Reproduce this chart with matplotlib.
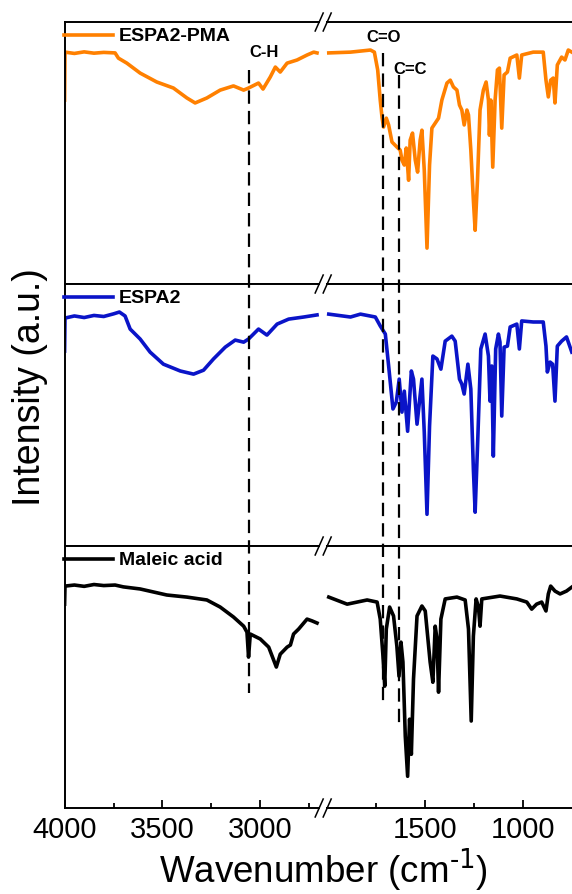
import numpy as np
import matplotlib
matplotlib.use("Agg")
import matplotlib.pyplot as plt
from matplotlib.lines import Line2D
from matplotlib.patches import Polygon

plt.rcParams['font.family'] = ['Liberation Sans', 'DejaVu Sans']
plt.rcParams['mathtext.default'] = 'regular'

# ESPA2-PMA (orange)
wn_pma = [4000, 3998, 3950, 3900, 3850, 3800, 3742, 3725, 3682, 3614,
          3529, 3444, 3375, 3333, 3273, 3205, 3137, 3085, 3060, 3009,
          2986, 2949, 2923, 2898, 2863, 2812, 2761, 2727, 2710,
          1993, 1882, 1780, 1760, 1743, 1730, 1721, 1713, 1699, 1687,
          1670, 1645, 1628, 1619, 1607, 1597, 1585, 1577, 1565, 1551,
          1539, 1526, 1517, 1505, 1491, 1478, 1466, 1449, 1432, 1415,
          1389, 1372, 1356, 1338, 1325, 1313, 1301, 1287, 1279, 1267,
          1254, 1245, 1233, 1220, 1203, 1189, 1177, 1172, 1165, 1155,
          1143, 1131, 1121, 1109, 1097, 1080, 1066, 1032, 1019, 1007,
          948, 897, 883, 871, 859, 846, 837, 825, 803, 786, 769, 751]
t_pma = [70.2, 88.5, 88.0, 88.6, 88.1, 88.4, 88.2, 86.2, 84.3, 80.5,
         77.1, 74.8, 71.0, 69.1, 71.0, 74.0, 75.6, 74.0, 74.8, 76.7,
         74.4, 79.0, 82.8, 80.9, 84.3, 85.5, 87.4, 88.5, 88.2,
         88.2, 88.5, 89.3, 88.5, 81.7, 70.2, 63.7, 59.9, 63.3, 60.7,
         54.2, 52.3, 51.1, 47.3, 45.4, 51.9, 39.6, 54.9, 57.6, 47.3,
         42.7, 54.9, 58.7, 43.5, 13.7, 45.4, 59.5, 61.4, 63.3, 70.2,
         76.7, 77.8, 75.2, 74.0, 68.3, 66.4, 60.7, 66.4, 64.5, 51.1,
         32.0, 20.5, 39.6, 66.4, 74.0, 77.1, 70.2, 56.8, 70.2, 44.6,
         70.2, 81.7, 82.4, 59.5, 79.8, 80.9, 86.2, 87.4, 78.6, 87.4,
         88.5, 88.5, 77.8, 71.4, 77.8, 78.6, 69.1, 83.6, 86.6, 85.5, 89.3, 88.5]

# ESPA2 (blue)
wn_espa = [4000, 3998, 3950, 3900, 3850, 3800, 3750, 3720, 3691, 3665,
           3614, 3563, 3495, 3409, 3341, 3290, 3239, 3179, 3128, 3085,
           3060, 3009, 2966, 2914, 2855, 2778, 2710,
           1993, 1882, 1831, 1755, 1730, 1704, 1687, 1665, 1648, 1633,
           1619, 1607, 1590, 1571, 1560, 1542, 1517, 1505, 1491, 1478,
           1461, 1440, 1420, 1398, 1364, 1347, 1325, 1313, 1301, 1282,
           1267, 1254, 1245, 1231, 1216, 1194, 1177, 1169, 1160, 1152,
           1140, 1126, 1118, 1109, 1097, 1080, 1066, 1032, 1019, 1007,
           948, 897, 883, 876, 862, 849, 837, 825, 803, 778, 751]
t_espa = [74.4, 87.0, 87.8, 87.2, 88.0, 87.6, 88.6, 89.3, 87.8, 82.8,
          79.0, 74.0, 69.4, 66.8, 65.6, 67.1, 71.4, 75.9, 78.6, 77.8,
          79.0, 82.8, 80.5, 84.7, 86.6, 87.4, 88.2,
          88.5, 87.4, 88.5, 87.4, 84.0, 80.9, 68.7, 52.3, 54.9, 63.7,
          51.1, 59.1, 43.8, 66.8, 63.7, 46.5, 63.7, 43.5, 12.1, 45.8,
          72.5, 71.4, 67.5, 78.2, 80.1, 78.2, 63.7, 61.8, 58.0, 69.4,
          59.9, 29.3, 12.9, 41.9, 75.2, 80.9, 72.5, 55.3, 68.7, 34.3,
          75.2, 80.9, 77.8, 49.6, 75.9, 76.3, 83.6, 84.7, 75.2, 85.9,
          85.5, 85.5, 76.3, 66.4, 70.2, 69.4, 55.3, 76.3, 78.2, 79.8, 74.0]

# Maleic acid (black)
wn_ma = [4000, 3998, 3950, 3900, 3850, 3800, 3742, 3700, 3614, 3478,
         3375, 3273, 3205, 3137, 3085, 3068, 3060, 3051, 3000, 2957,
         2918, 2898, 2863, 2846, 2830, 2804, 2761, 2735, 2710,
         1993, 1899, 1797, 1746, 1730, 1716, 1707, 1699, 1682, 1662,
         1645, 1634, 1624, 1614, 1602, 1590, 1580, 1571, 1560, 1542,
         1517, 1500, 1475, 1461, 1449, 1440, 1432, 1420, 1398, 1338,
         1296, 1279, 1265, 1254, 1240, 1228, 1220, 1211, 1118, 1032,
         981, 956, 931, 905, 883, 871, 859, 837, 811, 778, 751]
t_ma = [77.8, 84.7, 85.1, 84.6, 85.3, 84.9, 85.1, 84.4, 83.6, 81.3,
        80.5, 79.4, 76.7, 72.9, 69.4, 67.1, 57.6, 66.4, 64.5, 61.4,
        53.8, 58.7, 61.4, 62.2, 66.4, 68.3, 72.1, 71.4, 70.6,
        80.5, 77.8, 79.4, 78.6, 72.1, 58.0, 46.5, 68.3, 76.7, 73.3,
        61.8, 50.3, 63.3, 55.7, 27.4, 12.1, 33.9, 20.5, 49.2, 73.3,
        77.1, 75.2, 55.7, 48.0, 69.4, 64.5, 44.2, 72.1, 79.8, 80.5,
        79.4, 68.3, 33.2, 65.6, 79.8, 76.7, 69.4, 79.8, 80.9, 79.8,
        78.6, 75.9, 77.8, 78.6, 75.2, 81.7, 84.7, 82.8, 81.7, 82.8, 84.3]

names = ['ESPA2-PMA', 'ESPA2', 'Maleic acid']
colors = ['#FF8000', '#0A14C8', '#000000']

# marked bands: label, wavenumber
bands = [('C-H', 3060), ('C=O', 1715), ('C=C', 1633)]

# broken axis: 4000-2700 and 2000-750, gap squeezed
BRK_HI, BRK_LO, GAP = 2700, 2000, 43


def fwd(w):
    w = np.asarray(w, dtype=float)
    return np.where(w >= BRK_HI, w - (BRK_HI - BRK_LO) + GAP,
                    np.where(w <= BRK_LO, w, BRK_LO + (w - BRK_LO) * GAP / (BRK_HI - BRK_LO)))


def inv(u):
    u = np.asarray(u, dtype=float)
    return np.where(u >= BRK_LO + GAP, u + (BRK_HI - BRK_LO) - GAP,
                    np.where(u <= BRK_LO, u, BRK_LO + (u - BRK_LO) * (BRK_HI - BRK_LO) / GAP))


W, H = 572, 894
fig = plt.figure(figsize=(W / 100, H / 100), dpi=100)

left = 64.6 / W
top_px = 22
ph = 262
axes = []
for i in range(3):
    y0 = 1 - (top_px + ph * (i + 1)) / H
    ax = fig.add_axes([left, y0, 1 - left, ph / H])
    axes.append(ax)

spectra = [(wn_pma, t_pma), (wn_espa, t_espa), (wn_ma, t_ma)]
for ax, (wn, t), name, c in zip(axes, spectra, names, colors):
    wn = np.array(wn)
    t = np.array(t)
    hi = wn >= BRK_HI
    lo = wn <= BRK_LO
    ln, = ax.plot(wn[hi], t[hi], color=c, lw=2.6, solid_joinstyle='round')
    ax.plot(wn[lo], t[lo], color=c, lw=2.6, solid_joinstyle='round')
    ax.set_xscale('function', functions=(fwd, inv))
    ax.set_xlim(4000, 750)
    ax.set_ylim(0, 100)
    ax.set_yticks([])
    ax.spines['right'].set_visible(False)
    for s in ['left', 'top', 'bottom']:
        ax.spines[s].set_linewidth(1.4)
    ax.legend([ln], [name], loc='upper left', bbox_to_anchor=(-0.002, 0.978),
              frameon=False, borderaxespad=0, borderpad=0,
              handlelength=2.55, handletextpad=0.3,
              prop={'weight': 'bold', 'size': 14})

for ax in axes[:2]:
    ax.set_xticks([])
    ax.tick_params(axis='x', which='both', bottom=False, labelbottom=False)

axb = axes[2]
axb.set_xticks([4000, 3500, 3000, 1500, 1000])
axb.set_xticks([3750, 3250, 2750, 1750, 1250], minor=True)
axb.set_xticklabels(['4000', '3500', '3000', '1500', '1000'])
axb.tick_params(axis='x', which='major', direction='in', length=6, width=1.3,
                labelsize=21, pad=6)
axb.tick_params(axis='x', which='minor', direction='in', length=3.5, width=1.3)

# dashed band markers across the panels
axt = axes[0]
dash_px = {'C-H': (70, 693), 'C=O': (53, 705), 'C=C': (75, 728)}
for lab, w in bands:
    xd = axt.transData.transform((w, 50))[0] / W
    ya, yb = dash_px[lab]
    fig.add_artist(Line2D([xd, xd], [1 - ya / H, 1 - yb / H], transform=fig.transFigure,
                          color='black', lw=1.6, linestyle=(0, (6, 3.2))))

axt.text(3055, 88.5, 'C-H', ha='left', va='center', fontsize=12, fontweight='bold')
axt.text(1712, 94.0, 'C=O', ha='center', va='center', fontsize=12, fontweight='bold')
axt.text(1665, 81.7, 'C=C', ha='left', va='center', fontsize=12, fontweight='bold')

# break marks on each horizontal spine
xb = axb.transData.transform((2350, 50))[0]
for yp in [22, 22 + ph, 22 + 2 * ph, 22 + 3 * ph]:
    yd = H - yp
    gap = Polygon([((xb - 3) / W, (yd - 2) / H), ((xb + 3) / W, (yd - 2) / H),
                   ((xb + 3) / W, (yd + 2) / H), ((xb - 3) / W, (yd + 2) / H)],
                  closed=True, transform=fig.transFigure, facecolor='white',
                  edgecolor='none', zorder=3)
    fig.add_artist(gap)
    for dx in (-4, 4):
        fig.add_artist(Line2D([(xb + dx - 4) / W, (xb + dx + 4) / W],
                              [(yd - 9) / H, (yd + 9) / H], transform=fig.transFigure,
                              color='black', lw=1.1, zorder=4))

fig.text(30 / W, 1 - 387 / H, 'Intensity (a.u.)', rotation=90, ha='center',
         va='center', fontsize=27)
fig.text(323 / W, 1 - 870 / H, r'Wavenumber (cm$^{\text{-1}}$)', ha='center', va='center',
         fontsize=26.5)

fig.savefig('out.png', dpi=100)
